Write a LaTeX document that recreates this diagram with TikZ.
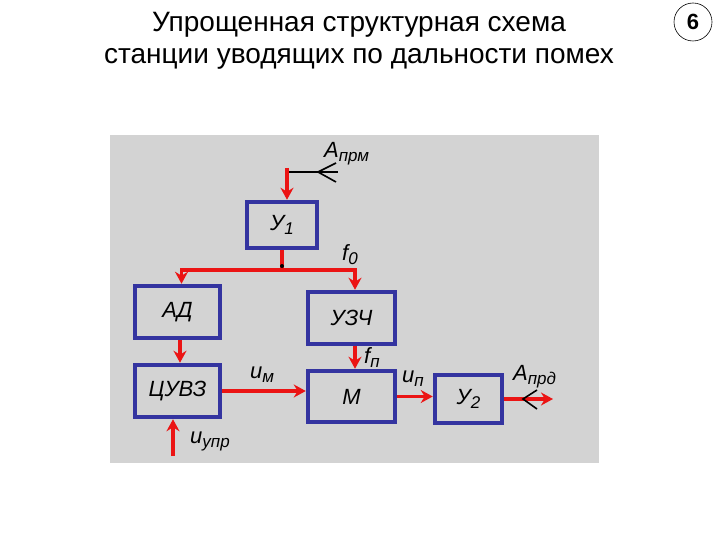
\documentclass[tikz,border=0pt]{standalone}
\usepackage{fontspec}
\setmainfont{Liberation Sans}
\usetikzlibrary{arrows.meta}
\definecolor{bggray}{RGB}{211,211,211}
\definecolor{boxblue}{RGB}{52,52,160}
\definecolor{sigred}{RGB}{235,20,20}
\newcommand\lblsub[2]{#1\raisebox{-4pt}{\fontsize{17}{17}\selectfont #2}}
\begin{document}
\begin{tikzpicture}[x=1pt,y=-1pt,
  blk/.style={draw=boxblue,line width=4.5pt,fill=bggray,inner sep=0pt,
    font=\fontsize{22}{22}\selectfont\itshape},
  sig/.style={draw=sigred,line width=3.5pt,-{Stealth[length=12pt,width=13pt]}},
  sigline/.style={draw=sigred,line width=3.5pt},
  ant/.style={draw=black,line width=1.6pt},
  lbl/.style={inner sep=0pt,anchor=base west,font=\fontsize{22}{22}\selectfont\itshape},
  title/.style={inner sep=0pt,anchor=base,font=\fontsize{28}{28}\selectfont}]
\useasboundingbox (0,0) rectangle (720,540);
\fill[white] (0,0) rectangle (720,540);
\fill[bggray] (110,135) rectangle (599,463);

% title
\node[title] (t1) at (359,32) {Упрощенная структурная схема};
\node[title] (t2) at (359,64) {станции уводящих по дальности помех};
\node[draw=black,line width=0.6pt,circle,minimum size=38pt,inner sep=0pt,
  font=\fontsize{22}{22}\selectfont\bfseries] (num) at (693,22) {6};

% blocks
\node[blk,minimum width=70pt,minimum height=46pt] (u1) at (282,225) {\lblsub{У}{1}};
\node[blk,minimum width=85pt,minimum height=52pt] (ad) at (177.5,312) {АД};
\node[blk,minimum width=87pt,minimum height=52pt] (uzch) at (351.5,318) {УЗЧ};
\node[blk,minimum width=85pt,minimum height=52pt] (cuvz) at (177.5,391) {ЦУВЗ};
\node[blk,minimum width=87pt,minimum height=51pt] (m) at (351.5,396.5) {М};
\node[blk,minimum width=67pt,minimum height=48pt] (u2) at (468.5,399) {\lblsub{У}{2}};

% coordinates
\coordinate (ain) at (287,168);
\coordinate (antA) at (287,172);
\coordinate (antV) at (318,172);
\coordinate (antE) at (338,172);
\coordinate (antU) at (336,163);
\coordinate (antD) at (336,182);
\coordinate (junc) at (282,270);
\coordinate (aout) at (553,399);
\coordinate (outV) at (523,399);
\coordinate (outU) at (537,390);
\coordinate (outD) at (537,409);
\coordinate (uupr) at (173,456);

% antenna input symbol
\draw[ant] (antA) -- (antE);
\draw[ant] (antU) -- (antV) -- (antD);

% signal lines
\draw[sig] (ain) -- (ain |- u1.north);
\draw[sigline] (u1.south) -- (junc);
\draw[sig] (junc) -| ([xshift=4pt]ad.north);
\draw[sig] (junc) -| ([xshift=3.5pt]uzch.north);
\fill[black] ([yshift=4pt]junc) circle (2pt);
\draw[sig] ([xshift=2.5pt]ad.south) -- ([xshift=2.5pt]cuvz.north);
\draw[sig] ([xshift=3.5pt]uzch.south) -- ([xshift=3.5pt]m.north);
\draw[sig] (cuvz.east) -- (m.west |- cuvz.east);
\draw[sig] (m.east) -- (m.east -| u2.west);
\draw[sig] (u2.east) -- (aout);
\draw[sig] (uupr) -- (uupr |- cuvz.south);

% output antenna symbol
\draw[ant] (outU) -- (outV) -- (outD);

% labels
\node[lbl] (lAprm) at (324,158) {\lblsub{A}{прм}};
\node[lbl] (lf0) at (342,260) {\lblsub{f}{0}};
\node[lbl] (lfp) at (364,363) {\lblsub{f}{п}};
\node[lbl] (lum) at (250,378) {\lblsub{u}{м}};
\node[lbl] (lup) at (402,382) {\lblsub{u}{п}};
\node[lbl] (lAprd) at (513,380) {\lblsub{A}{прд}};
\node[lbl] (luupr) at (190,443) {\lblsub{u}{упр}};
\end{tikzpicture}
\end{document}
